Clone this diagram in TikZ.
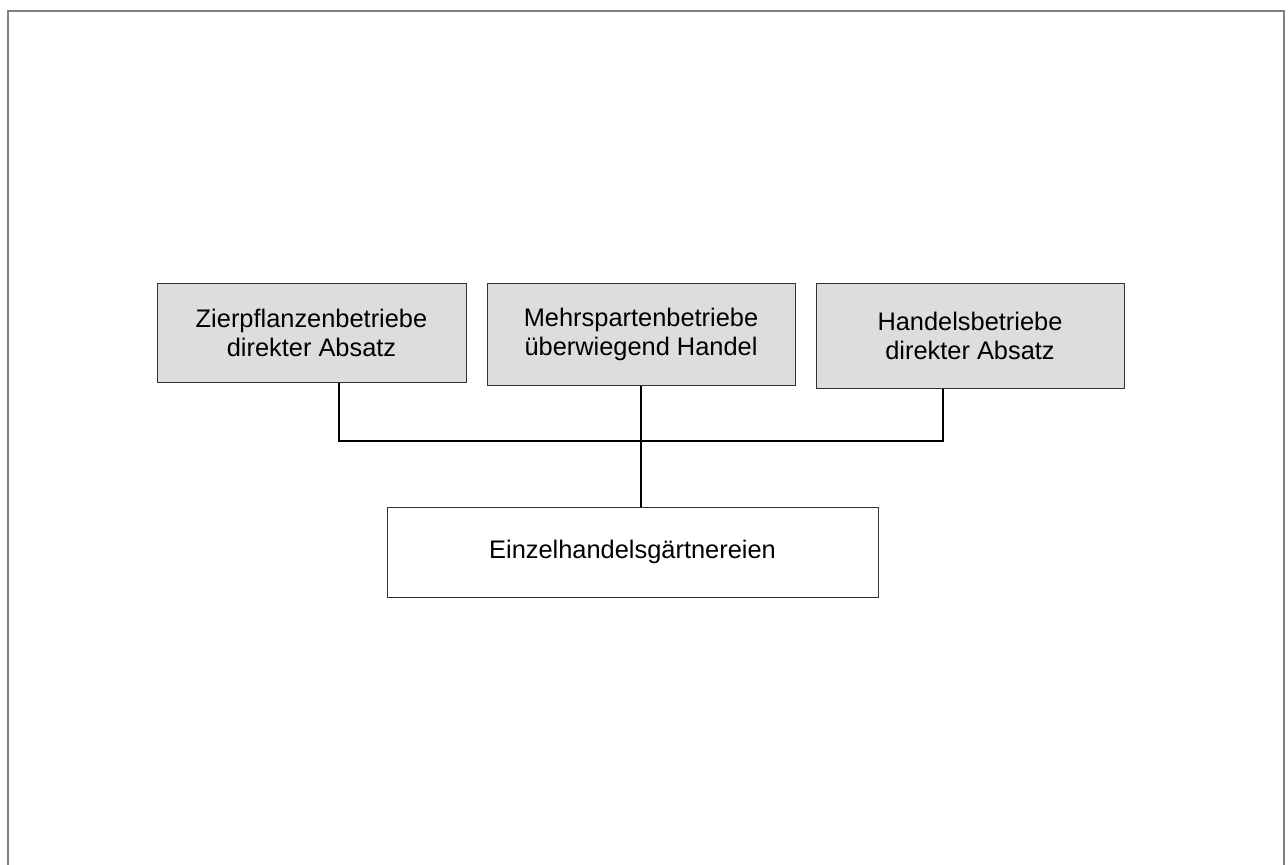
\documentclass[tikz,border=0pt]{standalone}
\usepackage{fontspec}
\setmainfont{Liberation Sans}
\definecolor{boxgray}{RGB}{221,221,221}
\definecolor{framegray}{RGB}{128,128,128}
\tikzset{
	kind/.style={draw=black!80, line width=0.5pt, fill=boxgray, align=center, inner sep=0pt,
		font=\fontsize{12.7}{14.5}\selectfont},
	target/.style={kind, fill=white}
}

\begin{document}
\begin{tikzpicture}[x=0.5pt,y=-0.5pt]
		%%%%% START %%%%%
		
		\useasboundingbox (0, 0) rectangle (1288, 864);
		\draw[line width=1.2pt, color=framegray] (8, 880) -- (8, 11) -- (1284, 11) -- (1284, 880);
		
		\node[kind, minimum width=154.5pt, minimum height=49.5pt] (zier) at (311.5, 332.5) {Zierpflanzenbetriebe\\direkter Absatz};
		\node[kind, minimum width=154pt, minimum height=51pt] (mehr) at (641, 334) {Mehrspartenbetriebe\\überwiegend Handel};
		\node[kind, minimum width=154pt, minimum height=52.5pt] (handel) at (970, 335.5) {Handelsbetriebe\\direkter Absatz};
		
		\node[target, minimum width=245.5pt, minimum height=45pt] (einzel) at (632.5, 552) {Einzelhandelsgärtnereien};
		
		\coordinate (busl) at (339, 441);
		\coordinate (busr) at (943, 441);
		
		\draw[line width=0.6pt] (busl |- zier.south) -- (busl) -- (busr) -- (busr |- handel.south);
		\draw[line width=0.6pt] (mehr.south) -- (mehr.south |- einzel.north);
		
		%%%%% END %%%%%
	\end{tikzpicture}
\end{document}
